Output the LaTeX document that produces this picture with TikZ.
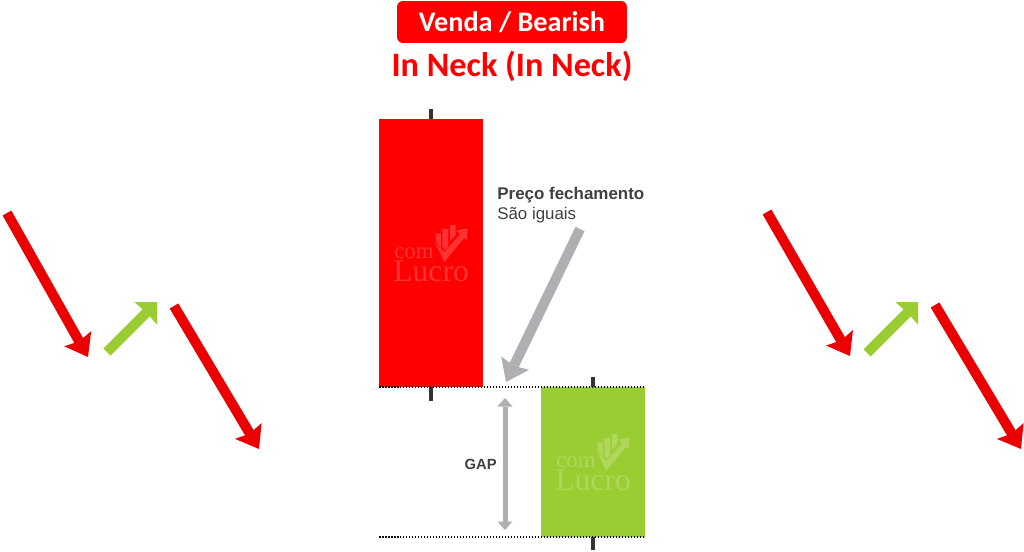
\documentclass[tikz,border=0pt]{standalone}
\usepackage{fontspec}
\usepackage{tikz}
\usetikzlibrary{arrows.meta}
\setmainfont{Liberation Sans}
\newfontfamily\titlefont{Carlito}
\newfontfamily\markfont{Liberation Serif}
\definecolor{candlered}{HTML}{FF0000}
\definecolor{arrowred}{HTML}{EA0000}
\definecolor{candlegreen}{HTML}{9ACD32}
\definecolor{arrowgray}{HTML}{ADAFB2}
\definecolor{labelgray}{HTML}{404040}
\definecolor{wickgray}{HTML}{333333}
\tikzset{
  redarrow/.style={draw=arrowred, line width=.2cm, -{Stealth[length=.42cm, width=.62cm, inset=.06cm, line width=0pt, fill=arrowred]}},
  greenarrow/.style={draw=candlegreen, line width=.2cm, -{Stealth[length=.32cm, width=.64cm, inset=.02cm, line width=0pt, fill=candlegreen]}},
  grayarrow/.style={draw=arrowgray, line width=.2cm, -{Stealth[length=.42cm, width=.62cm, inset=.06cm, line width=0pt, fill=arrowgray]}},
  gaparrow/.style={draw=arrowgray, line width=.1cm, {Triangle[length=.17cm, width=.3cm, line width=0pt, fill=arrowgray]}-{Triangle[length=.17cm, width=.3cm, line width=0pt, fill=arrowgray]}},
  wick/.style={draw=wickgray, line width=.08cm},
  closeline/.style={draw=black, line width=.03cm, dash pattern=on .03cm off .03cm},
  watermark/.style={text=white, text opacity=.2, inner sep=0pt},
  logomark/.pic={
    \fill[white, opacity=.2] (.7,8.3) -- (6,8.3) -- (6,24) -- (.7,16) -- cycle;
    \fill[white, opacity=.2] (7.3,4) -- (13.3,4) -- (13.3,21) -- (10,25) -- (7.3,22) -- cycle;
    \fill[white, opacity=.2] (15,0) -- (20.7,0) -- (20.7,10) -- (15,16) -- cycle;
    \fill[white, opacity=.2] (0,18) -- (9.3,27) -- (25,9) -- (21,5.5) -- (32.7,3.3) -- (31.7,15) -- (29,13) -- (9.3,37) -- cycle;
  }
}
\begin{document}
\begin{tikzpicture}[x=.02cm, y=-.02cm]
\useasboundingbox (0,0) rectangle (1024,551);

% left arrows
\coordinate (L1) at (7,213);
\coordinate (L2) at (88,357);
\coordinate (L3) at (107,352);
\coordinate (L4) at (157,302);
\coordinate (L5) at (174,306);
\coordinate (L6) at (259,449);
\draw[redarrow] (L1) -- (L2);
\draw[greenarrow] (L3) -- (L4);
\draw[redarrow] (L5) -- (L6);

% right arrows
\coordinate (R1) at (767,212);
\coordinate (R2) at (850,356);
\coordinate (R3) at (867,353);
\coordinate (R4) at (918,302);
\coordinate (R5) at (935,305);
\coordinate (R6) at (1021,449);
\draw[redarrow] (R1) -- (R2);
\draw[greenarrow] (R3) -- (R4);
\draw[redarrow] (R5) -- (R6);

% title
\node[fill=candlered, rounded corners=.12cm, minimum width=4.6cm, minimum height=.84cm, inner sep=0pt, text=white, font=\titlefont\bfseries\fontsize{16.1}{18}\selectfont] (banner) at (512,22) {Venda / Bearish};
\node[text=candlered, inner sep=0pt, font=\titlefont\bfseries\fontsize{19.5}{22}\selectfont] (title) at (512,66) {In Neck (In Neck)};

% red candle
\coordinate (RW1) at (431,109);
\coordinate (RW2) at (431,401);
\draw[wick] (RW1) -- (RW2);
\fill[candlered] (379,119) rectangle (483,387);
\node[watermark, anchor=base west, font=\markfont\fontsize{13}{13}\selectfont] (comred) at (394,258) {com};
\node[watermark, anchor=base west, font=\markfont\fontsize{18}{18}\selectfont] (lucrored) at (393,281) {Lucro};
\pic at (435,225) {logomark};

% green candle
\coordinate (GW1) at (593,377);
\coordinate (GW2) at (593,550);
\draw[wick] (GW1) -- (GW2);
\fill[candlegreen] (541,387) rectangle (645,537);
\node[watermark, anchor=base west, font=\markfont\fontsize{13}{13}\selectfont] (comgreen) at (556,467) {com};
\node[watermark, anchor=base west, font=\markfont\fontsize{18}{18}\selectfont] (lucrogreen) at (555,490) {Lucro};
\pic at (597,434) {logomark};

% close lines
\coordinate (C1) at (379,387);
\coordinate (C2) at (645,387);
\coordinate (C3) at (379,537);
\coordinate (C4) at (645,537);
\draw[closeline] (C1) -- (C2);
\draw[closeline] (C3) -- (C4);

% labels
\node[anchor=base west, inner sep=0pt, text=labelgray, font=\bfseries\fontsize{9.65}{11}\selectfont] (preco) at (497,199) {Preço fechamento};
\node[anchor=base west, inner sep=0pt, text=labelgray, font=\fontsize{9.6}{11}\selectfont] (iguais) at (497,219) {São iguais};
\coordinate (G1) at (580,229);
\coordinate (G2) at (506,382);
\draw[grayarrow] (G1) -- (G2);

\coordinate (GP1) at (505,398);
\coordinate (GP2) at (505,530);
\draw[gaparrow] (GP1) -- (GP2);
\node[anchor=base east, inner sep=0pt, text=labelgray, font=\bfseries\fontsize{8.4}{9}\selectfont] (gap) at (497,469) {GAP};
\end{tikzpicture}
\end{document}
